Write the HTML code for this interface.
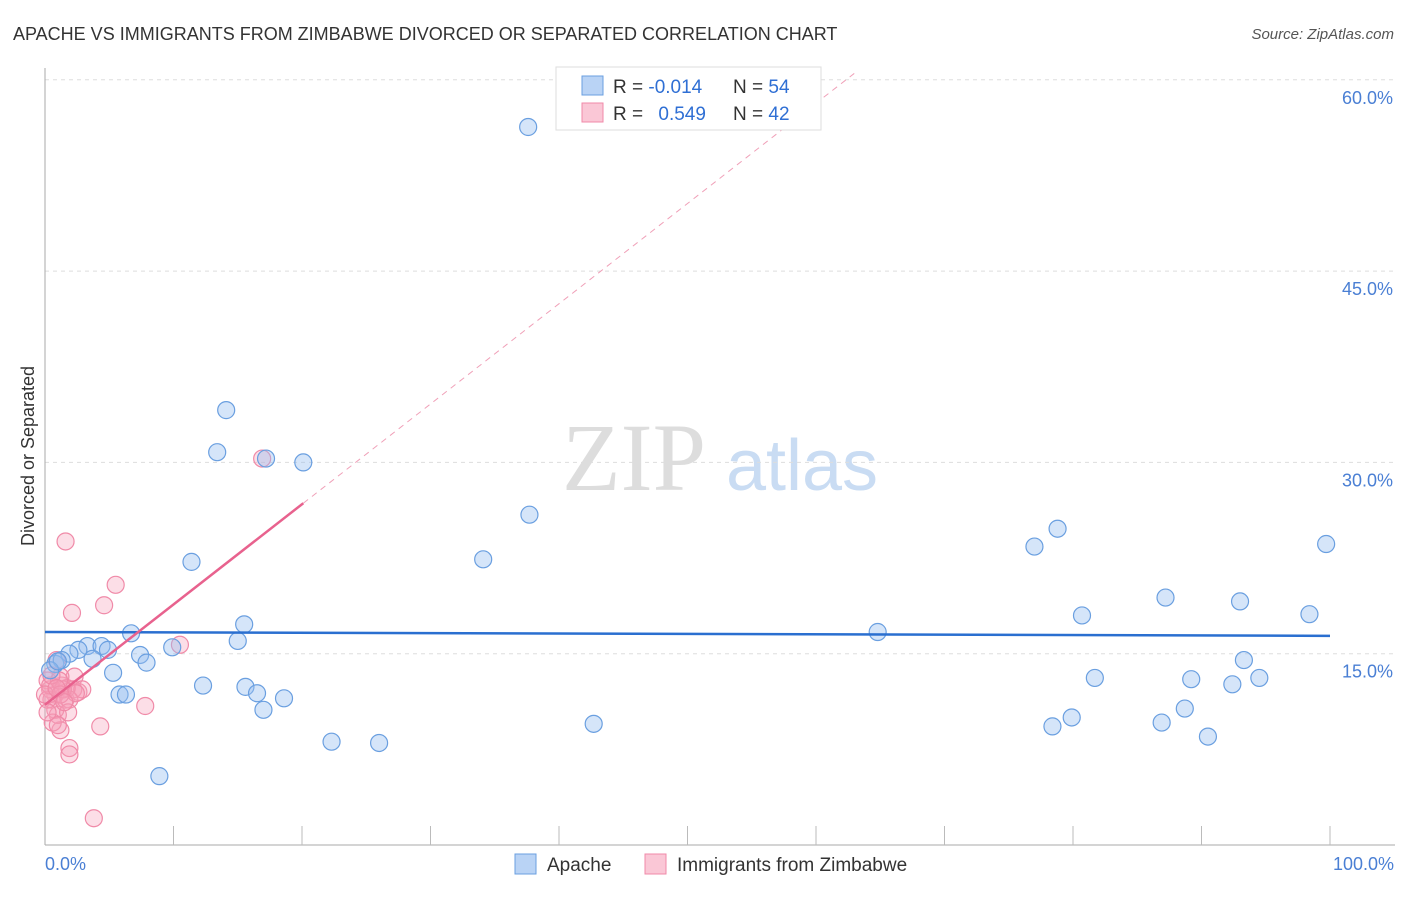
<!DOCTYPE html>
<html><head><meta charset="utf-8"><style>
body{margin:0;background:#fff;font-family:"Liberation Sans",sans-serif}
</style></head><body>
<svg width="1406" height="892" viewBox="0 0 1406 892" xmlns="http://www.w3.org/2000/svg">
<text x="13" y="40" font-size="18" fill="#333">APACHE VS IMMIGRANTS FROM ZIMBABWE DIVORCED OR SEPARATED CORRELATION CHART</text>
<text x="1394" y="39" font-size="15" fill="#555" text-anchor="end" font-style="italic">Source: ZipAtlas.com</text>
<g>
<text x="634" y="490" font-size="96" fill="#ddd" font-family="Liberation Serif,serif" text-anchor="middle">ZIP</text>
<text x="802" y="490" font-size="72" fill="#c9dcf3" text-anchor="middle">atlas</text>
</g>
<g id="grid"></g>
<g id="axes"></g>
<g id="marks"></g>
<text transform="translate(34,456) rotate(-90)" font-size="18" fill="#333" text-anchor="middle">Divorced or Separated</text>
<text x="45" y="870" font-size="18" fill="#4a7fd4">0.0%</text>
<text x="1394" y="870" font-size="18" fill="#4a7fd4" text-anchor="end">100.0%</text>
<g>
<rect x="556" y="67" width="265" height="63" fill="#fff" stroke="#ddd"/>
<rect x="582" y="76" width="21" height="19" fill="#b9d3f5" stroke="#6a9fe0"/>
<rect x="582" y="103" width="21" height="19" fill="#fac7d6" stroke="#f08aa8"/>
<text x="613" y="93" font-size="19" fill="#333">R = <tspan fill="#2f6fd4">-0.014</tspan></text>
<text x="733" y="93" font-size="19" fill="#333">N = <tspan fill="#2f6fd4">54</tspan></text>
<text x="613" y="120" font-size="19" fill="#333">R = <tspan fill="#2f6fd4" dx="10">0.549</tspan></text>
<text x="733" y="120" font-size="19" fill="#333">N = <tspan fill="#2f6fd4">42</tspan></text>
</g>
<g>
<rect x="515" y="854" width="21" height="20" fill="#b9d3f5" stroke="#6a9fe0"/>
<text x="547" y="871" font-size="19" fill="#333">Apache</text>
<rect x="645" y="854" width="21" height="20" fill="#fac7d6" stroke="#f08aa8"/>
<text x="677" y="871" font-size="19" fill="#333">Immigrants from Zimbabwe</text>
</g>
</svg>
<script>
const yTicks=[15,30,45,60];
const yTickLabels=["15.0%","30.0%","45.0%","60.0%"];
const xTicks=[10,20,30,40,50,60,70,80,90,100];
const apacheX=[37.6,14.1,13.4,17.2,20.1,37.7,34.1,11.4,15.5,6.7,15.0,9.9,3.3,4.4,2.6,1.9,0.8,1.3,7.4,7.9,3.7,5.3,5.8,6.3,12.3,15.6,16.5,18.6,17.0,22.3,26.0,8.9,42.7,64.8,77.0,78.8,80.7,81.7,78.4,79.9,87.2,89.2,86.9,88.7,90.5,93.0,93.3,92.4,94.5,98.4,99.7,4.9,0.4,1.0];
const apacheY=[56.3,34.1,30.8,30.3,30.0,25.9,22.4,22.2,17.3,16.6,16.0,15.5,15.6,15.6,15.3,15.0,14.2,14.5,14.9,14.3,14.6,13.5,11.8,11.8,12.5,12.4,11.9,11.5,10.6,8.1,8.0,5.4,9.5,16.7,23.4,24.8,18.0,13.1,9.3,10.0,19.4,13.0,9.6,10.7,8.5,19.1,14.5,12.6,13.1,18.1,23.6,15.3,13.7,14.4];
const zimX=[1.6,5.5,4.6,2.1,16.9,10.5,7.8,4.3,3.8,1.9,1.9,1.2,1.0,0.8,0.4,0.2,0.5,1.3,2.3,2.6,1.2,0.8,1.6,0.9,2.2,1.7,0.2,0.6,1.0,0.4,1.9,1.4,2.9,2.4,0,0.2,1.1,1.8,0.5,1.2,1.5,0.9];
const zimY=[23.8,20.4,18.8,18.2,30.3,15.7,10.9,9.3,2.1,7.6,7.1,9.0,10.2,11.8,12.2,12.9,11.4,12.5,13.2,12.0,13.2,10.6,11.4,14.5,12.2,12.3,11.4,9.6,9.4,12.5,11.4,12.2,12.2,11.9,11.8,10.4,12.9,10.4,13.3,11.8,11.2,12.3];
const apacheTrend=[16.7,16.4];
const zimTrend=[11.0,0.786];
const X=v=>45+v*12.85, Y=v=>845-v*191.3/15;
const NS="http://www.w3.org/2000/svg";
function mk(p,t,a){const e=document.createElementNS(NS,t);for(const k in a)e.setAttribute(k,a[k]);document.getElementById(p).appendChild(e);return e;}
yTicks.forEach((t,i)=>{
 const l=mk('grid','line',{x1:45,x2:1395,y1:Y(t),y2:Y(t),stroke:'#ddd','stroke-dasharray':'4,4'});
 
 
 const tx=mk('grid','text',{x:1393,y:Y(t)+24,'font-size':18,fill:'#4a7fd4','text-anchor':'end'});
 tx.textContent=yTickLabels[i];
 
 
});
const ya=mk('axes','line',{x1:45,x2:45,y1:68,y2:845,stroke:'#aaa'});


const xa=mk('axes','line',{x1:45,x2:1395,y1:845,y2:845,stroke:'#aaa'});


xTicks.forEach(t=>{const l=mk('axes','line',{x1:X(t),x2:X(t),y1:826,y2:845,stroke:'#bbb'});
 
 });
zimX.forEach((x,i)=>{const c=mk('marks','circle',{cx:X(x),cy:Y(zimY[i]),r:8.5,fill:'rgba(245,160,185,0.35)',stroke:'#f08aa8','stroke-width':1.2});
 
 });
apacheX.forEach((x,i)=>{const c=mk('marks','circle',{cx:X(x),cy:Y(apacheY[i]),r:8.5,fill:'rgba(150,190,240,0.4)',stroke:'#6a9fe0','stroke-width':1.2});
 
 });
const at=mk('marks','line',{x1:X(0),x2:X(100),y1:Y(apacheTrend[0]),y2:Y(apacheTrend[1]),stroke:'#2a6fd0','stroke-width':2.5});


const xe=(60.5-zimTrend[0])/zimTrend[1];
const zd=mk('marks','line',{x1:X(20.1),x2:X(xe),y1:Y(zimTrend[0]+zimTrend[1]*20.1),y2:Y(60.5),stroke:'#f0a0b8','stroke-width':1,'stroke-dasharray':'6,5'});


const zs=mk('marks','line',{x1:X(0),x2:X(20.1),y1:Y(zimTrend[0]),y2:Y(zimTrend[0]+zimTrend[1]*20.1),stroke:'#e8628e','stroke-width':2.5});


</script>
</body></html>
